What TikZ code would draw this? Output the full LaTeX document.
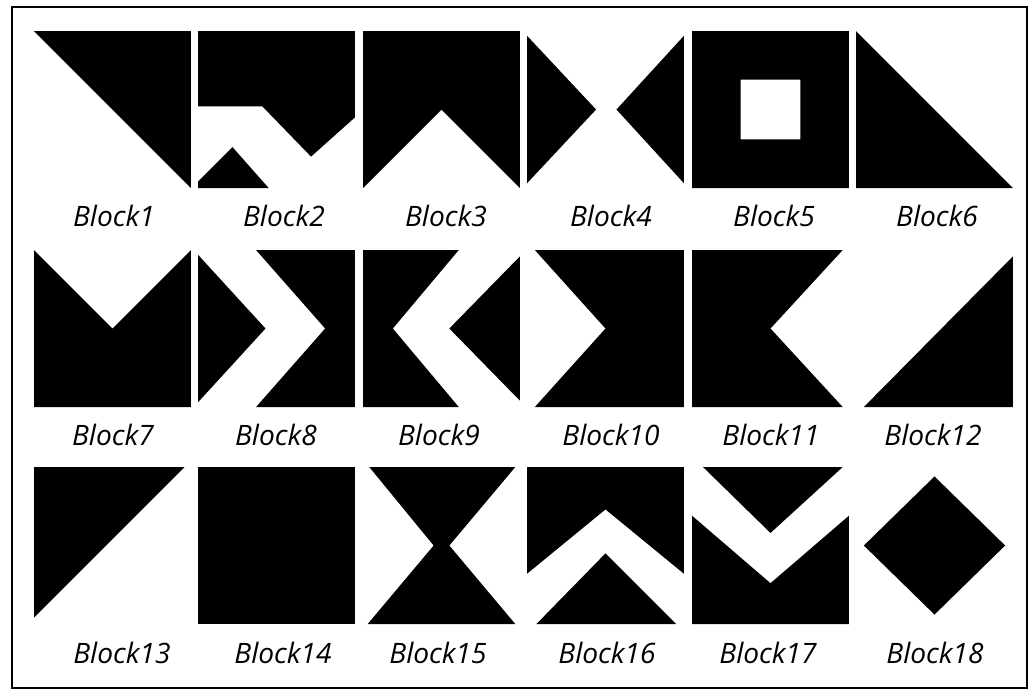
\documentclass[tikz,border=0pt]{standalone}
\usepackage{fontspec}
\setmainfont{Open Sans}
\begin{document}
\begin{tikzpicture}[x=0.02cm, y=-0.02cm,
    blk/.style={fill=black},
    blocklabel/.style={font=\fontsize{16}{18}\selectfont\itshape, anchor=base, inner sep=0pt},
    cell/.style 2 args={shift={(#1,#2)}, x=3.14cm, y=3.14cm}]
    \useasboundingbox (0,0) rectangle (1034,690);
    \draw[line width=1.1pt] (12,7) rectangle (1027,688);

    % Reihe 1
    \begin{scope}[cell={34}{188}]
      \fill[blk] (0,1) -- (1,1) -- (1,0) -- cycle;
    \end{scope}
    \node[blocklabel] (b1) at (114,226) {Block1};

    \begin{scope}[cell={198}{188}]
      \fill[blk] (0,1) -- (1,1) -- (1,0.45) -- (0.72,0.2) -- (0.41,0.52) -- (0,0.52) -- cycle;
      \fill[blk] (0,0) -- (0,0.04) -- (0.22,0.26) -- (0.45,0) -- cycle;
    \end{scope}
    \node[blocklabel] (b2) at (284,226) {Block2};

    \begin{scope}[cell={363}{188}]
      \fill[blk] (0,0) -- (0,1) -- (1,1) -- (1,0) -- (0.5,0.5) -- cycle;
    \end{scope}
    \node[blocklabel] (b3) at (446,226) {Block3};

    \begin{scope}[cell={527}{188}]
      \fill[blk] (0,0.97) -- (0.44,0.5) -- (0,0.03) -- cycle;
      \fill[blk] (1,0.97) -- (0.57,0.5) -- (1,0.03) -- cycle;
    \end{scope}
    \node[blocklabel] (b4) at (611,226) {Block4};

    \begin{scope}[cell={692}{188}]
      \fill[blk, even odd rule] (0,0) rectangle (1,1) (0.31,0.31) rectangle (0.69,0.69);
    \end{scope}
    \node[blocklabel] (b5) at (774,226) {Block5};

    \begin{scope}[cell={856}{188}]
      \fill[blk] (0,1) -- (0,0) -- (1,0) -- cycle;
    \end{scope}
    \node[blocklabel] (b6) at (937,226) {Block6};

    % Reihe 2
    \begin{scope}[cell={34}{407}]
      \fill[blk] (0,1) -- (0.5,0.5) -- (1,1) -- (1,0) -- (0,0) -- cycle;
    \end{scope}
    \node[blocklabel] (b7) at (113,445) {Block7};

    \begin{scope}[cell={198}{407}]
      \fill[blk] (0,0.97) -- (0.43,0.5) -- (0,0.03) -- cycle;
      \fill[blk] (0.37,1) -- (1,1) -- (1,0) -- (0.37,0) -- (0.81,0.5) -- cycle;
    \end{scope}
    \node[blocklabel] (b8) at (276,445) {Block8};

    \begin{scope}[cell={363}{407}]
      \fill[blk] (0,1) -- (0.61,1) -- (0.19,0.5) -- (0.61,0) -- (0,0) -- cycle;
      \fill[blk] (1,0.96) -- (0.55,0.5) -- (1,0.04) -- cycle;
    \end{scope}
    \node[blocklabel] (b9) at (439,445) {Block9};

    \begin{scope}[cell={527}{407}]
      \fill[blk] (0.05,1) -- (1,1) -- (1,0) -- (0.05,0) -- (0.5,0.5) -- cycle;
    \end{scope}
    \node[blocklabel] (b10) at (611,445) {Block10};

    \begin{scope}[cell={692}{407}]
      \fill[blk] (0,1) -- (0.96,1) -- (0.5,0.5) -- (0.96,0) -- (0,0) -- cycle;
    \end{scope}
    \node[blocklabel] (b11) at (771,445) {Block11};

    \begin{scope}[cell={856}{407}]
      \fill[blk] (0.05,0) -- (1,0) -- (1,0.96) -- cycle;
    \end{scope}
    \node[blocklabel] (b12) at (933,445) {Block12};

    % Reihe 3
    \begin{scope}[cell={34}{624}]
      \fill[blk] (0,1) -- (0.96,1) -- (0,0.04) -- cycle;
    \end{scope}
    \node[blocklabel] (b13) at (122,663) {Block13};

    \begin{scope}[cell={198}{624}]
      \fill[blk] (0,0) rectangle (1,1);
    \end{scope}
    \node[blocklabel] (b14) at (283,663) {Block14};

    \begin{scope}[cell={363}{624}]
      \fill[blk] (0.04,1) -- (0.97,1) -- (0.55,0.5) -- (0.97,0) -- (0.03,0) -- (0.45,0.5) -- cycle;
    \end{scope}
    \node[blocklabel] (b15) at (438,663) {Block15};

    \begin{scope}[cell={527}{624}]
      \fill[blk] (0,1) -- (1,1) -- (1,0.32) -- (0.5,0.73) -- (0,0.32) -- cycle;
      \fill[blk] (0.06,0) -- (0.5,0.45) -- (0.95,0) -- cycle;
    \end{scope}
    \node[blocklabel] (b16) at (607,663) {Block16};

    \begin{scope}[cell={692}{624}]
      \fill[blk] (0.07,1) -- (0.96,1) -- (0.5,0.58) -- cycle;
      \fill[blk] (0,0.69) -- (0.5,0.26) -- (1,0.69) -- (1,0) -- (0,0) -- cycle;
    \end{scope}
    \node[blocklabel] (b17) at (768,663) {Block17};

    \begin{scope}[cell={856}{624}]
      \fill[blk] (0.5,0.94) -- (0.95,0.5) -- (0.5,0.06) -- (0.05,0.5) -- cycle;
    \end{scope}
    \node[blocklabel] (b18) at (935,663) {Block18};
\end{tikzpicture}
\end{document}
